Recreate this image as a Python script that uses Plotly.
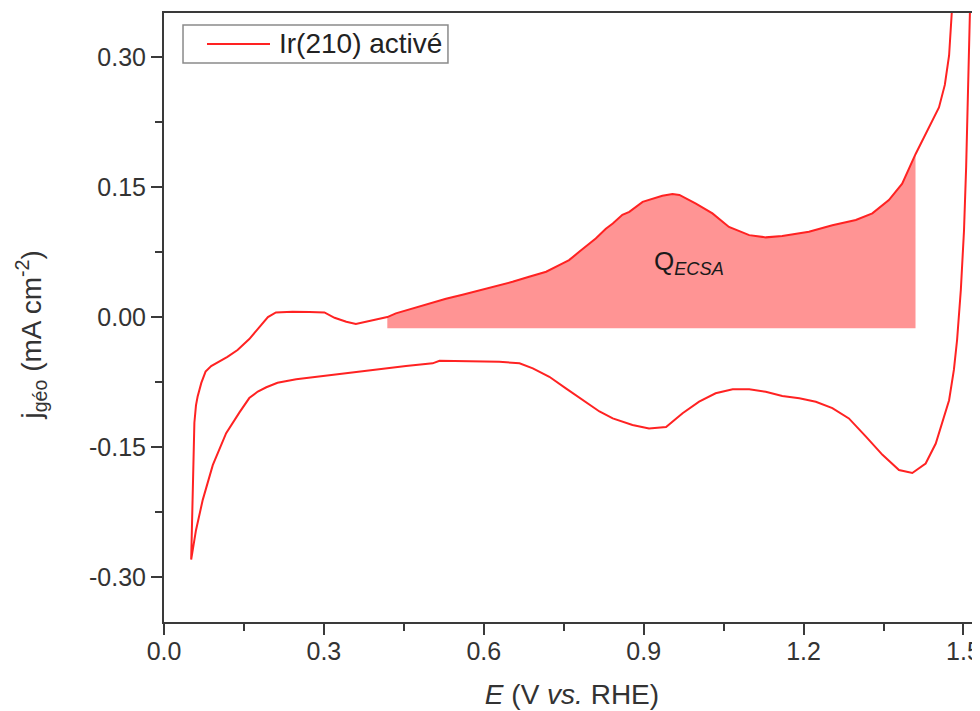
import plotly.graph_objects as go

# ---- data (E in V vs RHE, j in mA cm-2) ----
E_anodic = [0.051, 0.0525, 0.054, 0.057, 0.060, 0.063, 0.070, 0.078, 0.0885, 0.104,
            0.119, 0.138, 0.160, 0.179, 0.195, 0.210, 0.241, 0.273, 0.301, 0.320,
            0.342, 0.360, 0.379, 0.400, 0.419, 0.435, 0.466, 0.498, 0.529, 0.560,
            0.592, 0.623, 0.654, 0.685, 0.717, 0.748, 0.760, 0.779, 0.798, 0.810,
            0.829, 0.842, 0.860, 0.873, 0.898, 0.935, 0.954, 0.967, 0.998, 1.029,
            1.060, 1.098, 1.129, 1.160, 1.210, 1.254, 1.298, 1.329, 1.360, 1.385,
            1.410, 1.435, 1.454, 1.465, 1.473, 1.478, 1.482]
j_anodic = [-0.280, -0.234, -0.180, -0.122, -0.102, -0.092, -0.076, -0.063, -0.0565, -0.0516,
            -0.046, -0.038, -0.0254, -0.0115, 0.000, 0.0054, 0.0061, 0.0058, 0.0054, -0.0008,
            -0.0054, -0.0081, -0.0054, -0.0023, 0.000, 0.0043, 0.010, 0.0158, 0.0211, 0.0257,
            0.0308, 0.0354, 0.0407, 0.0465, 0.0523, 0.062, 0.0658, 0.0753, 0.085, 0.0908,
            0.102, 0.108, 0.118, 0.1215, 0.133, 0.140, 0.142, 0.141, 0.131, 0.1197,
            0.104, 0.0946, 0.092, 0.0935, 0.0984, 0.106, 0.112, 0.1197, 0.135, 0.154,
            0.188, 0.219, 0.242, 0.268, 0.302, 0.351, 0.400]

E_cathodic = [1.514, 1.512, 1.510, 1.505, 1.501, 1.495, 1.488, 1.482, 1.473, 1.460,
              1.448, 1.429, 1.404, 1.379, 1.348, 1.317, 1.285, 1.254, 1.223, 1.192,
              1.160, 1.129, 1.098, 1.067, 1.035, 1.004, 0.973, 0.942, 0.910, 0.879,
              0.842, 0.817, 0.785, 0.754, 0.723, 0.692, 0.667, 0.629, 0.517, 0.504,
              0.454, 0.392, 0.304, 0.248, 0.213, 0.192, 0.176, 0.160, 0.1416, 0.1166,
              0.0915, 0.0727, 0.060, 0.051]
j_cathodic = [0.400, 0.351, 0.273, 0.173, 0.100, 0.031, -0.0265, -0.061, -0.096, -0.1226,
              -0.146, -0.169, -0.180, -0.1765, -0.159, -0.138, -0.117, -0.105, -0.0977, -0.0938,
              -0.0912, -0.0862, -0.0834, -0.0834, -0.088, -0.0977, -0.111, -0.127, -0.1285, -0.1246,
              -0.117, -0.109, -0.0958, -0.0823, -0.0689, -0.0592, -0.0534, -0.0516, -0.0504, -0.0534,
              -0.0565, -0.061, -0.068, -0.0719, -0.0758, -0.081, -0.086, -0.0935, -0.110, -0.134,
              -0.171, -0.211, -0.246, -0.280]

# integration window and baseline of the shaded Q_ECSA area
E_lo, E_hi = 0.419, 1.410
j_base = -0.013

x_tickvals = [0.0, 0.3, 0.6, 0.9, 1.2, 1.5]
x_ticktext = ["0.0", "0.3", "0.6", "0.9", "1.2", "1.5"]
y_tickvals = [-0.30, -0.15, 0.00, 0.15, 0.30]
y_ticktext = ["-0.30", "-0.15", "0.00", "0.15", "0.30"]

series_name = "Ir(210) activé"
label_text = "Q<sub><i>ECSA</i></sub>"
x_title = "<i>E</i> (V <i>vs.</i> RHE)"
y_title = "j<sub>géo</sub> (mA cm<sup>-2</sup>)"

# ---- build figure ----
sub = [(e, j) for e, j in zip(E_anodic, j_anodic) if E_lo <= e <= E_hi]
fill_x = [E_lo] + [p[0] for p in sub] + [E_hi, E_lo]
fill_y = [j_base] + [p[1] for p in sub] + [j_base, j_base]

RED = "#FF2222"
FONT = "Liberation Sans, Arial, sans-serif"
AX = "#3a3a3a"
TXT = "#333333"

fig = go.Figure()
fig.add_trace(go.Scatter(x=fill_x, y=fill_y, mode="lines", fill="toself",
                         fillcolor="rgb(255,148,148)", line=dict(width=0),
                         hoverinfo="skip", showlegend=False))
fig.add_trace(go.Scatter(x=E_anodic + E_cathodic, y=j_anodic + j_cathodic,
                         mode="lines", name=series_name, showlegend=False,
                         line=dict(color=RED, width=2)))

# annotation inside the shaded area
fig.add_annotation(x=0.915, y=0.063, xref="x", yref="y", text=label_text,
                   showarrow=False, xanchor="left", yanchor="middle",
                   font=dict(family=FONT, size=26, color="#1a1a1a"))

# legend box (drawn in paper coordinates)
fig.add_shape(type="rect", xref="paper", yref="paper",
              x0=0.0233, x1=0.3480, y0=0.9179, y1=0.9803,
              line=dict(color="#8a8a8a", width=1.5), fillcolor="white", layer="above")
fig.add_shape(type="line", xref="paper", yref="paper",
              x0=0.0527, x1=0.1299, y0=0.9491, y1=0.9491,
              line=dict(color=RED, width=2), layer="above")
fig.add_annotation(x=0.1385, y=0.9491, xref="paper", yref="paper", text=series_name,
                   showarrow=False, xanchor="left", yanchor="middle",
                   font=dict(family=FONT, size=28, color="#222222"))

# y-axis title, placed as rotated text left of the tick labels
fig.add_annotation(x=-0.163, y=0.472, xref="paper", yref="paper", text=y_title,
                   showarrow=False, textangle=-90, xanchor="center", yanchor="middle",
                   font=dict(family=FONT, size=28, color=TXT))

# the page body adds an 8 px offset, so the figure is 972 x 703
fig.update_layout(
    width=972, height=703,
    margin=dict(l=156, r=0, t=5, b=89),
    paper_bgcolor="white", plot_bgcolor="white",
    font=dict(family=FONT, size=25, color=TXT),
    showlegend=False,
)
fig.update_xaxes(
    range=[0, 1.531], showgrid=False, zeroline=False, automargin=False,
    showline=True, linecolor=AX, linewidth=2, mirror=True,
    ticks="outside", ticklen=11, tickwidth=2, tickcolor=AX,
    tickvals=x_tickvals, ticktext=x_ticktext, ticklabeloverflow="allow",
    ticklabelstandoff=-5,
    minor=dict(ticks="outside", ticklen=7, tickwidth=2, tickcolor=AX, dtick=0.15, tick0=0),
    tickfont=dict(family=FONT, size=25, color=TXT),
    title=dict(text=x_title, standoff=20,
               font=dict(family=FONT, size=28, color=TXT)),
)
fig.update_yaxes(
    range=[-0.352, 0.351], showgrid=False, zeroline=False, automargin=False,
    showline=True, linecolor=AX, linewidth=2, mirror=False,
    ticks="outside", ticklen=11, tickwidth=2, tickcolor=AX,
    tickvals=y_tickvals, ticktext=y_ticktext,
    minor=dict(ticks="outside", ticklen=7, tickwidth=2, tickcolor=AX, dtick=0.075, tick0=0),
    tickfont=dict(family=FONT, size=25, color=TXT),
)

fig.write_html("out.html")
